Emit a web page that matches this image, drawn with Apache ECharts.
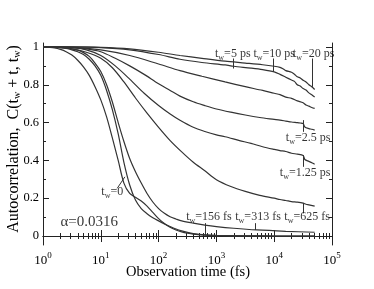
<!DOCTYPE html>
<html><head><meta charset="utf-8">
<script src="https://cdn.jsdelivr.net/npm/echarts@6/dist/echarts.min.js"></script>
<style>html,body{margin:0;padding:0;background:#fff}#c{width:374px;height:289px}</style>
</head><body><div id="c"></div>
<script>
// ---- tick values / labels ----
const xMajorTicks = [1, 10, 100, 1000, 10000, 100000];
const xTickExponents = ['0', '1', '2', '3', '4', '5'];
const xMinorTicks = [2,3,4,5,6,7,8,9, 20,30,40,50,60,70,80,90, 200,300,400,500,600,700,800,900,
  2000,3000,4000,5000,6000,7000,8000,9000, 20000,30000,40000,50000,60000,70000,80000,90000];
const yMajorTicks = [0, 0.2, 0.4, 0.6, 0.8, 1];
const yTickLabels = ['0', '0.2', '0.4', '0.6', '0.8', '1'];
const yMinorTicks = [0.1, 0.3, 0.5, 0.7, 0.9];

// ---- curves: [time (fs), C] ----
const tw0 = [[1,1],[1.26,0.998],[1.58,0.995],[2,0.987],[2.51,0.975],[3.16,0.957],[3.98,0.93],[5.01,0.895],[6.31,0.85],[7.94,0.79],[10,0.72],[12.6,0.63],[15.8,0.52],[20,0.4],[25.1,0.28],[31.6,0.225],[39.8,0.205],[50.1,0.185],[63.1,0.158],[79.4,0.125],[100,0.092],[126,0.066],[158,0.046],[200,0.032],[251,0.022],[316,0.015],[398,0.01],[631,0.005],[1000,0.002],[3162,0.001],[10000,0],[50119,0]];
const tw156 = [[1,1],[1.26,0.999],[1.58,0.998],[2,0.996],[2.51,0.992],[3.16,0.985],[3.98,0.975],[5.01,0.96],[6.31,0.935],[7.94,0.9],[10,0.85],[12.6,0.77],[15.8,0.67],[20,0.54],[25.1,0.39],[31.6,0.27],[39.8,0.19],[50.1,0.145],[63.1,0.118],[79.4,0.097],[100,0.08],[126,0.064],[158,0.05],[200,0.037],[251,0.027],[316,0.019],[398,0.013],[631,0.006],[1000,0.003],[3162,0.001],[10000,0],[50119,0]];
const tw313 = [[1,1],[1.58,0.999],[2.51,0.995],[3.16,0.99],[3.98,0.983],[5.01,0.97],[6.31,0.95],[7.94,0.915],[10,0.87],[12.6,0.8],[15.8,0.71],[20,0.6],[25.1,0.5],[31.6,0.41],[39.8,0.34],[50.1,0.28],[63.1,0.225],[79.4,0.18],[100,0.145],[126,0.12],[158,0.102],[200,0.09],[251,0.08],[398,0.068],[631,0.058],[1000,0.05],[1995,0.041],[5012,0.032],[15849,0.025],[50119,0.02]];
const tw625 = [[1,1],[1.78,0.998],[3.16,0.99],[5.62,0.972],[10,0.94],[15.85,0.89],[25.12,0.815],[39.81,0.73],[63.1,0.65],[100,0.575],[158.5,0.505],[251.2,0.445],[398.1,0.39],[631,0.345],[1000,0.298],[1778,0.262],[3162,0.236],[5623,0.215],[10000,0.2],[12589,0.193],[15849,0.188],[19953,0.182],[25119,0.179],[31623,0.174],[35481,0.168],[39811,0.165],[50119,0.158]];
const tw1250 = [[1,1],[3.16,0.996],[5.62,0.985],[10,0.955],[17.78,0.9],[31.62,0.83],[56.23,0.755],[100,0.69],[158.5,0.645],[234.4,0.612],[398.1,0.575],[631,0.553],[1000,0.535],[1413,0.525],[2512,0.505],[3981,0.49],[6310,0.472],[10000,0.458],[12589,0.452],[15849,0.447],[19953,0.438],[25119,0.433],[31623,0.426],[33884,0.405],[39811,0.395],[44668,0.388],[50119,0.38]];
const tw2500 = [[1,1],[3.16,0.997],[5.62,0.99],[10,0.975],[17.78,0.94],[31.62,0.9],[56.23,0.855],[100,0.805],[158.5,0.77],[234.4,0.74],[398.1,0.71],[631,0.69],[1000,0.672],[1778,0.655],[3162,0.64],[5623,0.627],[10000,0.617],[12589,0.613],[15849,0.608],[19953,0.603],[25119,0.6],[28184,0.598],[31623,0.595],[33884,0.577],[39811,0.568],[44668,0.565],[50119,0.56]];
const tw5000 = [[1,1],[3.16,0.998],[10,0.985],[31.62,0.955],[100,0.91],[234.4,0.875],[562.3,0.845],[1413,0.815],[3162,0.79],[6310,0.77],[10000,0.755],[12589,0.748],[15849,0.735],[19953,0.728],[25119,0.715],[31623,0.705],[35481,0.693],[39811,0.687],[44668,0.68],[50119,0.675]];
const tw10000 = [[1,1],[3.16,1],[10,0.997],[31.62,0.985],[100,0.96],[234.4,0.935],[562.3,0.918],[1413,0.905],[1995,0.898],[3981,0.888],[6310,0.88],[10000,0.868],[12589,0.855],[15849,0.84],[19953,0.825],[22387,0.818],[25119,0.8],[28184,0.793],[31623,0.78],[35481,0.772],[39811,0.757],[44668,0.747],[50119,0.735]];
const tw20000 = [[1,1],[3.16,1],[10,0.998],[31.62,0.99],[100,0.972],[234.4,0.955],[562.3,0.94],[1413,0.925],[3162,0.915],[6310,0.906],[10000,0.898],[12589,0.892],[14125,0.885],[15849,0.875],[19953,0.866],[22387,0.856],[25119,0.842],[28184,0.836],[31623,0.824],[35481,0.815],[39811,0.8],[44668,0.79],[50119,0.775]];
const curves = [tw0, tw156, tw313, tw625, tw1250, tw2500, tw5000, tw10000, tw20000];

// ---- annotations ----
const annotText = ['=0', '=156 fs', '=313 fs', '=625 fs', '=1.25 ps', '=2.5 ps', '=5 ps', '=10 ps', '=20 ps'];
const annotPos = [[15.8,0.234],[745,0.102],[5250,0.102],[37100,0.102],[34300,0.334],[38600,0.519],[1920,0.965],[10000,0.965],[48000,0.965]];
const annotPointers = [
  [[19.2,0.252],[26.1,0.313]],
  [[631,0.068],[631,0.005]],
  [[4670,0.068],[4670,0.032]],
  [[32100,0.12],[32100,0.175]],
  [[32100,0.366],[32100,0.428]],
  [[31300,0.551],[31300,0.613]],
  [[1963,0.939],[1963,0.886]],
  [[9440,0.939],[9440,0.868]],
  [[45900,0.939],[45900,0.789]]
];
const alphaText = 'α=0.0316';
const alphaPos = [6.3, 0.076];

const FONT = 'Liberation Serif';
const AX = '#222';
const LINE = '#333';
const yMin = -0.0475, yMax = 1.021;

const chart = echarts.init(document.getElementById('c'), null, {renderer: 'canvas'});

function xAxisDef(pos, major) {
  return {
    type: 'log', logBase: 10, min: 1, max: 100000, position: pos, gridIndex: 0,
    axisLine: {show: major, lineStyle: {color: AX, width: 1}},
    axisTick: {show: true, inside: true, length: major ? 6 : 3, lineStyle: {color: AX, width: 1},
      customValues: major ? xMajorTicks : xMinorTicks},
    axisLabel: (major && pos === 'bottom') ? {
      show: true, customValues: xMajorTicks, margin: 6,
      formatter: function (v) { const i = xMajorTicks.indexOf(v); return '{b|10}{s|' + xTickExponents[i] + '}'; },
      rich: {b: {fontFamily: FONT, fontSize: 13, color: '#000', lineHeight: 16, verticalAlign: 'bottom'},
             s: {fontFamily: FONT, fontSize: 9, color: '#000', lineHeight: 16, verticalAlign: 'top'}}
    } : {show: false},
    splitLine: {show: false}
  };
}
function yAxisDef(pos, major) {
  return {
    type: 'value', min: yMin, max: yMax, position: pos, gridIndex: 0,
    axisLine: {show: major, lineStyle: {color: AX, width: 1}},
    axisTick: {show: true, inside: true, length: major ? 6 : 3, lineStyle: {color: AX, width: 1},
      customValues: major ? yMajorTicks : yMinorTicks},
    axisLabel: (major && pos === 'left') ? {
      show: true, customValues: yMajorTicks, margin: 4, fontFamily: FONT, fontSize: 12.5, color: '#000',
      formatter: function (v) { const i = yMajorTicks.indexOf(v); return i >= 0 ? yTickLabels[i] : ''; }
    } : {show: false},
    splitLine: {show: false}
  };
}

const subRich = {
  t: {fontFamily: FONT, fontSize: 12, color: '#000', lineHeight: 16, verticalAlign: 'middle'},
  w: {fontFamily: FONT, fontSize: 8, color: '#000', lineHeight: 9, verticalAlign: 'bottom'}
};

const series = curves.map(function (d) {
  return {type: 'line', xAxisIndex: 0, yAxisIndex: 0, data: d, showSymbol: false, symbol: 'none',
    smooth: 0.3, lineStyle: {color: LINE, width: 1.2}, silent: true, z: 3};
});
series.push({
  type: 'lines', coordinateSystem: 'cartesian2d', xAxisIndex: 0, yAxisIndex: 0, silent: true, z: 4,
  lineStyle: {color: LINE, width: 1, opacity: 1},
  data: annotPointers.map(function (p) { return {coords: p}; })
});
series.push({
  type: 'scatter', xAxisIndex: 0, yAxisIndex: 0, symbolSize: 0, silent: true, z: 5,
  data: annotPos.map(function (p) { return {value: p}; }),
  label: {show: true, position: 'inside', align: 'center', verticalAlign: 'middle',
    formatter: function (p) { return '{t|t}{w|w}{t|' + annotText[p.dataIndex] + '}'; },
    rich: subRich}
});
series.push({
  type: 'scatter', xAxisIndex: 0, yAxisIndex: 0, symbolSize: 0, silent: true, z: 5,
  data: [alphaPos],
  label: {show: true, position: 'inside', align: 'center', verticalAlign: 'middle',
    formatter: alphaText, fontFamily: FONT, fontSize: 15, color: '#000'}
});

chart.setOption({
  animation: false,
  backgroundColor: '#fff',
  grid: {left: 43, right: 42, top: 43, bottom: 44, containLabel: false},
  xAxis: [xAxisDef('bottom', true), xAxisDef('bottom', false), xAxisDef('top', true), xAxisDef('top', false)],
  yAxis: [yAxisDef('left', true), yAxisDef('left', false), yAxisDef('right', true), yAxisDef('right', false)],
  graphic: [
    {type: 'text', x: 188, y: 272, silent: true,
      style: {text: 'Observation time (fs)', fontFamily: FONT, fontSize: 14.5, fill: '#000', align: 'center', verticalAlign: 'middle'}},
    {type: 'text', x: 14, y: 139, rotation: Math.PI / 2, silent: true,
      style: {text: 'Autocorrelation,  C(t{w|w} + t, t{w|w})', fontFamily: FONT, fontSize: 16, fill: '#000',
        align: 'center', verticalAlign: 'middle',
        rich: {w: {fontFamily: FONT, fontSize: 10, fill: '#000', verticalAlign: 'bottom', lineHeight: 10}}}}
  ],
  series: series
});
</script></body></html>
